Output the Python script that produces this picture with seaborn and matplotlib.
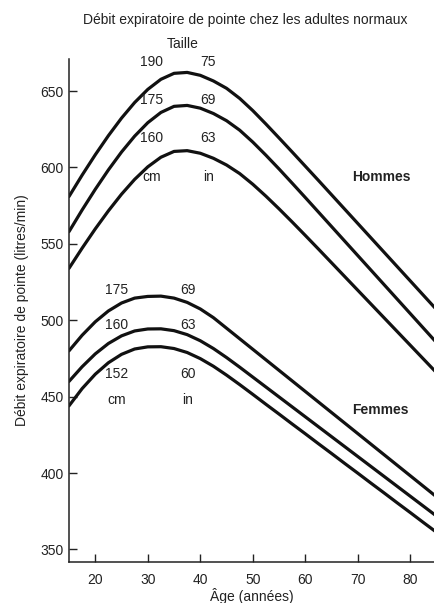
import matplotlib

matplotlib.use('Agg')

import matplotlib.pyplot as plt
import seaborn as sns
import numpy as np
import pandas as pd


ages = np.arange(15, 85.1, 2.5)

men_190 = [581.0, 595.0, 608.3, 620.8, 632.3, 642.5, 651.1, 657.7, 661.6, 662.2,
           660.3, 656.6, 651.8, 645.2, 637.2, 628.4, 619.3, 610.1, 600.8, 591.5,
           582.1, 572.7, 563.3, 553.9, 544.5, 535.1, 525.7, 516.3, 506.9]
men_175 = [558.0, 572.2, 585.7, 598.4, 610.1, 620.5, 629.3, 636.0, 640.0, 640.6,
           638.8, 635.3, 630.6, 624.4, 616.6, 608.0, 599.0, 589.7, 580.3, 570.8,
           561.3, 551.8, 542.3, 532.8, 523.3, 513.8, 504.3, 494.8, 485.3]
men_160 = [534.0, 547.2, 559.8, 571.6, 582.5, 592.2, 600.4, 606.7, 610.5, 611.0,
           609.3, 606.0, 601.6, 596.0, 589.0, 581.2, 572.9, 564.3, 555.5, 546.6,
           537.6, 528.6, 519.6, 510.6, 501.6, 492.6, 483.6, 474.6, 465.6]

women_175 = [480.0, 490.2, 499.0, 506.1, 511.3, 514.5, 515.6, 515.8, 514.5, 511.7,
             507.4, 501.7, 494.8, 487.9, 481.0, 474.1, 467.2, 460.3, 453.4, 446.5,
             439.6, 432.7, 425.8, 418.9, 412.0, 405.1, 398.2, 391.3, 384.4]
women_160 = [460.0, 469.6, 478.0, 484.8, 489.8, 493.0, 494.3, 494.4, 493.2, 490.6,
             486.6, 481.5, 475.6, 469.3, 462.8, 456.3, 449.8, 443.3, 436.8, 430.3,
             423.8, 417.3, 410.8, 404.3, 397.8, 391.3, 384.8, 378.3, 371.8]
women_152 = [444.0, 455.3, 464.7, 472.2, 477.7, 481.2, 482.6, 482.7, 481.5, 478.9,
             474.9, 469.9, 464.1, 457.9, 451.5, 445.0, 438.6, 432.1, 425.7, 419.2,
             412.8, 406.3, 399.9, 393.4, 387.0, 380.5, 374.1, 367.6, 361.2]

curves = {
    'H190': men_190,
    'H175': men_175,
    'H160': men_160,
    'F175': women_175,
    'F160': women_160,
    'F152': women_152,
}

y_ticks = [350, 400, 450, 500, 550, 600, 650]
x_ticks = [20, 30, 40, 50, 60, 70, 80]

men_labels = [('190', '75', 669), ('175', '69', 644), ('160', '63', 619), ('cm', 'in', 594)]
women_labels = [('175', '69', 519.5), ('160', '63', 497), ('152', '60', 465), ('cm', 'in', 448)]

df = pd.concat(
    [
        pd.DataFrame({'age': ages, 'pef': vals, 'curve': name})
        for name, vals in curves.items()
    ],
    ignore_index=True,
)

sns.set_style('ticks')
plt.rcParams['font.family'] = ['Liberation Sans', 'DejaVu Sans']

fig = plt.figure(figsize=(4.34, 6.03), dpi=100)
ax = fig.add_axes([0.159, 0.0685, 0.841, 0.8337])

sns.lineplot(
    data=df,
    x='age',
    y='pef',
    hue='curve',
    palette=['#111111'] * len(curves),
    linewidth=2.3,
    legend=False,
    ax=ax,
)

ax.set_xlim(15, 84.5)
ax.set_ylim(342, 671)
ax.set_xticks(x_ticks)
ax.set_yticks(y_ticks)

ax.tick_params(
    direction='in',
    length=6,
    width=1,
    labelsize=10,
    colors='#222222',
)
ax.tick_params(axis='x', pad=8)
ax.tick_params(axis='y', pad=4)

for side in ['top', 'right']:
    ax.spines[side].set_visible(False)
for side in ['left', 'bottom']:
    ax.spines[side].set_linewidth(1.1)
    ax.spines[side].set_color('#222222')

ax.set_xlabel('Âge (années)', fontsize=10, color='#222222')
ax.xaxis.set_label_coords(0.5, -0.052)
ax.set_ylabel('Débit expiratoire de pointe (litres/min)', fontsize=10,
              color='#222222', labelpad=8)

for cm, inch, y in men_labels:
    ax.text(30.8, y, cm, ha='center', va='center', fontsize=10, color='#222222')
    ax.text(41.5, y, inch, ha='center', va='center', fontsize=10, color='#222222')

for cm, inch, y in women_labels:
    ax.text(24.1, y, cm, ha='center', va='center', fontsize=10, color='#222222')
    ax.text(37.6, y, inch, ha='center', va='center', fontsize=10, color='#222222')

ax.text(36.7, 681, 'Taille', ha='center', va='center', fontsize=10, color='#222222')
ax.text(74.4, 594, 'Hommes', ha='center', va='center', fontsize=10,
        fontweight='bold', color='#222222')
ax.text(74.2, 441, 'Femmes', ha='center', va='center', fontsize=10,
        fontweight='bold', color='#222222')

fig.text(0.565, 0.967, 'Débit expiratoire de pointe chez les adultes normaux',
         ha='center', va='center', fontsize=10, color='#222222')

plt.savefig('out.png', dpi=100)
plt.close()
